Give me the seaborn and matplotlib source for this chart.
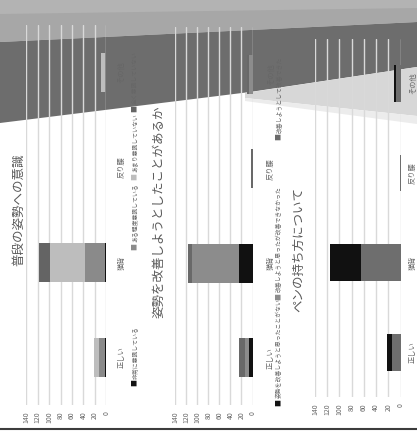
import numpy as np
import pandas as pd
import seaborn as sns
import matplotlib.pyplot as plt
from matplotlib.patches import Polygon

W, H = 417, 432

categories = ['正しい', '猫背', '反り腰', 'その他']

# 普段の姿勢への意識
awareness_title = '普段の姿勢への意識'
awareness_names = ['非常に意識している', 'ある程度意識している', 'あまり意識していない', '全く意識していない']
awareness_very = [2, 2, 0, 0]
awareness_some = [10, 35, 0, 2]
awareness_little = [10, 62, 1, 8]
awareness_none = [0, 19, 0, 0]

# 姿勢を改善しようとしたことがあるか
improve_title = '姿勢を改善しようとしたことがあるか'
improve_names = ['姿勢を改善しようと思ったことがない', '改善しようと思ったが改善できなかった', '改善しようとして改善できた']
improve_never = [6, 24, 0, 0]
improve_failed = [8, 85, 0, 7]
improve_done = [10, 8, 2, 3]

# ペンの持ち方について
pen_title = 'ペンの持ち方について'
pen_names = ['正しく持てていない', '正しく持てている']
pen_wrong = [15, 65, 1, 8]
pen_right = [7, 50, 0, 3]

ticks = [0, 20, 40, 60, 80, 100, 120, 140]


def fx(x):
    return x / W


def fy(y):
    return 1 - y / H


def add_axes(fig, x0, x1, y0, y1):
    ax = fig.add_axes([fx(x0), fy(y1), (x1 - x0) / W, (y1 - y0) / H])
    ax.set_facecolor('none')
    return ax


def draw_panel(ax, series, colors, cat_pad):
    # stack by drawing cumulative totals from the outermost series inwards
    cum = np.cumsum(np.array(series, dtype=float), axis=0)
    for i in range(len(series) - 1, -1, -1):
        df = pd.DataFrame({'category': categories, 'value': cum[i]})
        sns.barplot(data=df, x='value', y='category', order=categories[::-1],
                    color=colors[i], saturation=1, width=0.41, linewidth=0,
                    orient='h', ax=ax)
    ax.set_xlim(140, 0)
    ax.set_xticks(ticks)
    ax.set_xticklabels([str(t) for t in ticks])
    ax.grid(axis='x', color='#d9d9d9', lw=1)
    ax.grid(axis='y', visible=False)
    ax.set_axisbelow(True)
    ax.set_xlabel('')
    ax.set_ylabel('')
    for s in ax.spines.values():
        s.set_visible(False)
    ax.yaxis.tick_right()
    ax.tick_params(axis='x', length=0, pad=4.5, labelsize=4.9, labelcolor='#666666')
    ax.tick_params(axis='y', length=0, pad=cat_pad, labelsize=5.2, labelcolor='#666666')
    for lab in ax.get_xticklabels():
        lab.set_rotation(90)
        lab.set_ha('center')
        lab.set_va('top')
    for lab in ax.get_yticklabels():
        lab.set_rotation(90)
        lab.set_ha('left')
        lab.set_va('center')


def legend_entry(fig, x, y, name, color):
    fig.text(fx(x), fy(y), '■', color=color, fontsize=5, rotation=90,
             ha='center', va='center')
    fig.text(fx(x), fy(y - 4), name, color='#666666', fontsize=4.2, rotation=90,
             ha='center', va='bottom')


sns.set_style('white')
plt.rcParams['font.family'] = ['Noto Sans CJK JP', 'DejaVu Sans']

fig = plt.figure(figsize=(W / 100, H / 100), dpi=100)
fig.patch.set_facecolor('white')

# page shading at the top of the photo
shading = [
    ([(0, 0), (417, 0), (417, 22), (0, 42)], '#a7a7a7'),
    ([(0, 0), (417, 0), (417, 8), (0, 14)], '#b3b3b3'),
    ([(0, 42), (417, 22), (417, 67), (250, 92), (0, 123)], '#6d6d6d'),
    ([(245, 93), (417, 67), (417, 116), (245, 98)], '#d7d7d7'),
    ([(245, 98), (417, 116), (417, 124), (245, 101)], '#ececec'),
]
for pts, col in shading:
    fig.patches.append(Polygon([(fx(x), fy(y)) for x, y in pts], closed=True,
                               transform=fig.transFigure, facecolor=col,
                               edgecolor='none', zorder=-5))

aw_colors = ['#111111', '#8a8a8a', '#bdbdbd', '#646464']
im_colors = ['#111111', '#8c8c8c', '#696969']
pen_colors = ['#6e6e6e', '#111111']

ax1 = add_axes(fig, 26.3, 106.3, 25, 405)
draw_panel(ax1, [awareness_very, awareness_some, awareness_little, awareness_none],
           aw_colors, 8)
ax2 = add_axes(fig, 175.3, 252.5, 27, 405)
draw_panel(ax2, [improve_never, improve_failed, improve_done], im_colors, 10.5)
ax3 = add_axes(fig, 315, 400.7, 38.7, 397)
draw_panel(ax3, [pen_wrong, pen_right], pen_colors, 6)

fig.text(fx(18.5), fy(210), awareness_title, rotation=90, ha='center', va='center',
         fontsize=9, color='#595959')
fig.text(fx(159), fy(212), improve_title, rotation=90, ha='center', va='center',
         fontsize=9, color='#595959')
fig.text(fx(299), fy(250), pen_title, rotation=90, ha='center', va='center',
         fontsize=9, color='#595959')

for yy, name, col in zip([383, 246, 176, 108], awareness_names, aw_colors):
    legend_entry(fig, 135, yy, name, col)
for yy, name, col in zip([402, 296, 137], improve_names, im_colors):
    legend_entry(fig, 279, yy, name, col)

# edge of the page at the bottom
fig.add_artist(plt.Line2D([0, 1], [fy(429), fy(429)], transform=fig.transFigure,
                          color='#3c3c3c', lw=1.5))

fig.savefig('out.png', dpi=100)
